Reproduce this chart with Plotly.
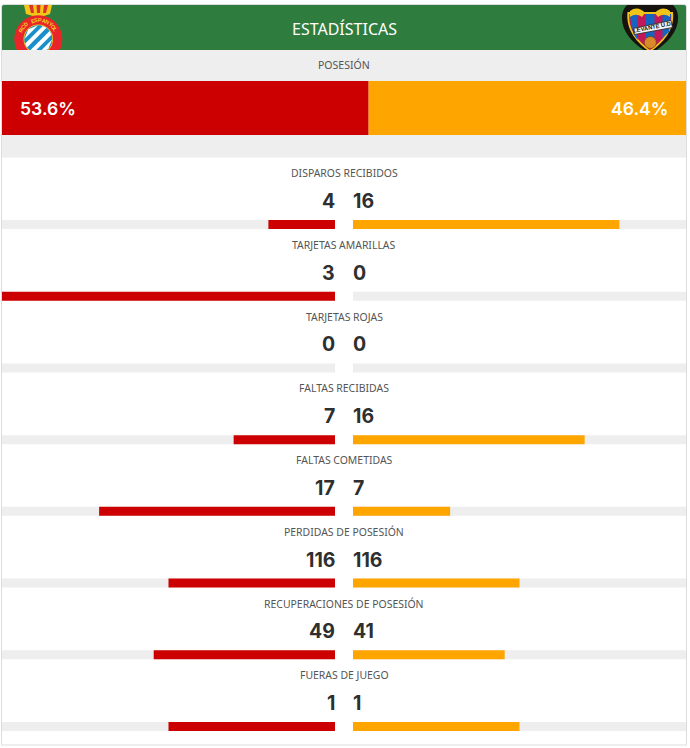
import math
import plotly.graph_objects as go

W, H = 690, 748
stat_labels = ["DISPAROS RECIBIDOS", "TARJETAS AMARILLAS", "TARJETAS ROJAS", "FALTAS RECIBIDAS",
               "FALTAS COMETIDAS", "PERDIDAS DE POSESIÓN", "RECUPERACIONES DE POSESIÓN", "FUERAS DE JUEGO"]
home_values = [4, 3, 0, 7, 17, 116, 49, 1]
away_values = [16, 0, 0, 16, 7, 116, 41, 1]
possession_home = [53.6]
possession_away = [46.4]
title_text = "ESTADÍSTICAS"
possession_label = "POSESIÓN"

RED, ORANGE, GREY, GREEN = "#cc0000", "#ffa500", "#eeeeee", "#2f7d3e"
INK = "#2f2f2f"
LABEL_FONT = "Noto Sans"
NUM_FONT = "Inter"

def px(x):
    return x / W
def py(y):
    return 1 - y / H

home_share = [h / (h + a) if h + a else 0 for h, a in zip(home_values, away_values)]
away_share = [a / (h + a) if h + a else 0 for h, a in zip(home_values, away_values)]
rows = list(range(len(stat_labels)))
track = [1] * len(rows)

fig = go.Figure()
barw = 0.1255
for xa, share, col in (("x", home_share, RED), ("x2", away_share, ORANGE)):
    fig.add_bar(y=rows, x=track, orientation="h", xaxis=xa, yaxis="y", marker=dict(color=GREY, line_width=0),
                width=barw, hoverinfo="skip", showlegend=False)
    fig.add_bar(y=rows, x=share, orientation="h", xaxis=xa, yaxis="y", marker=dict(color=col, line_width=0),
                width=barw, showlegend=False)
fig.add_bar(y=[0], x=possession_home, orientation="h", xaxis="x3", yaxis="y3", marker=dict(color=RED, line_width=0),
            width=1, showlegend=False)
fig.add_bar(y=[0], x=possession_away, base=possession_home, orientation="h", xaxis="x3", yaxis="y3",
            marker=dict(color=ORANGE, line_width=0), width=1, showlegend=False)

hidden = dict(visible=False, fixedrange=True)
pitch = 71.71
first = 224.5
top = first - 0.5 * pitch
bot_val = 7.2
bottom = first + bot_val * pitch
fig.update_layout(
    width=W, height=H, margin=dict(l=0, r=0, t=0, b=0), paper_bgcolor="white", plot_bgcolor="rgba(0,0,0,0)",
    barmode="overlay",
    xaxis=dict(domain=[px(2), px(335)], range=[1, 0], **hidden),
    xaxis2=dict(domain=[px(353), px(686)], range=[0, 1], **hidden),
    xaxis3=dict(domain=[px(2), px(686)], range=[0, 100], **hidden),
    yaxis=dict(domain=[py(bottom), py(top)], range=[bot_val, -0.5], **hidden),
    yaxis3=dict(domain=[py(135), py(81)], range=[-0.5, 0.5], **hidden),
)

# ---- decoration helpers: everything below is in page pixels
def P(path_pts):
    parts = []
    for i, (x, y) in enumerate(path_pts):
        parts.append(("M" if i == 0 else "L") + f"{px(x):.5f},{py(y):.5f}")
    return " ".join(parts) + " Z"

def curve(*nodes):
    out = []
    for n in nodes:
        cmd, pts = n[0], n[1:]
        out.append(cmd + " ".join(f"{px(x):.5f},{py(y):.5f}" for x, y in pts))
    return " ".join(out) + " Z"

def poly(pts, fill, line=None, lw=0):
    return dict(type="path", xref="paper", yref="paper", path=P(pts), fillcolor=fill,
                line=dict(color=line or fill, width=lw), layer="below")

def path(d, fill):
    return dict(type="path", xref="paper", yref="paper", path=d, fillcolor=fill, line_width=0, layer="below")

def circ(cx, cy, r, fill, line=None, lw=0):
    return dict(type="circle", xref="paper", yref="paper", x0=px(cx - r), x1=px(cx + r), y0=py(cy + r), y1=py(cy - r),
                fillcolor=fill, line=dict(color=line or fill, width=lw), layer="below")

def rect(x0, y0, x1, y1, fill):
    return dict(type="rect", xref="paper", yref="paper", x0=px(x0), x1=px(x1), y0=py(y1), y1=py(y0),
                fillcolor=fill, line_width=0, layer="below")

r = 4
header = curve(("M", (2, 50)), ("L", (2, 5 + r)), ("C", (2, 5), (2, 5), (2 + r, 5)), ("L", (686 - r, 5)),
               ("C", (686, 5), (686, 5), (686, 5 + r)), ("L", (686, 50)))
card = curve(("M", (1.5, 745)), ("L", (1.5, 4.5 + r)), ("C", (1.5, 4.5), (1.5, 4.5), (1.5 + r, 4.5)),
             ("L", (686.5 - r, 4.5)), ("C", (686.5, 4.5), (686.5, 4.5), (686.5, 4.5 + r)), ("L", (686.5, 745)))
shapes = [dict(type="path", xref="paper", yref="paper", path=card, fillcolor="white",
               line=dict(color="#dddddd", width=1), layer="below"),
          path(header, GREEN)]

# Espanyol crest
cx, cy = 38.3, 39.2
shapes += [
    poly([(24, 5), (52, 5), (50, 14), (44, 16), (33, 16), (26, 14)], "#f5c518"),
    poly([(29, 5), (33, 5), (34, 13), (31, 13)], "#d8342a"),
    poly([(36.5, 5), (40.5, 5), (40, 13), (37, 13)], "#d8342a"),
    poly([(44, 5), (48, 5), (46, 13), (43, 13)], "#d8342a"),
    circ(cx, cy, 24, "#e8262a"),
    circ(cx, cy, 14.8, "#f5c518"),
    circ(cx, cy, 14, "#1b8fcb"),
]
for d in (-12, -4.2, 4.2, 12):  # white diagonal stripes of the crest
    half = 2.0
    pts = []
    for off, sgn in ((d - half, 1), (d + half, -1)):
        ch = math.sqrt(max(14 ** 2 - off ** 2, 0))
        a = (cx + off * 0.707 - sgn * ch * 0.707, cy + off * 0.707 + sgn * ch * 0.707)
        b = (cx + off * 0.707 + sgn * ch * 0.707, cy + off * 0.707 - sgn * ch * 0.707)
        pts += [a, b]
    shapes.append(poly(pts, "white"))

# Levante crest
shapes += [
    path(curve(("M", (627, 5)), ("L", (673, 5)), ("C", (676, 8), (678, 12), (678, 18)),
               ("C", (678, 34), (664, 46), (650, 54)), ("C", (636, 46), (622, 34), (622, 18)),
               ("C", (622, 12), (624, 8), (627, 5))), "#16120f"),
    path(curve(("M", (627.5, 12)), ("L", (673, 12)), ("C", (675, 30), (663, 43), (650, 52)),
               ("C", (637, 43), (625.5, 30), (627.5, 12))), "#f0c419"),
    path(curve(("M", (629.5, 14)), ("L", (671, 14)), ("C", (673, 30), (661, 42), (650, 50)),
               ("C", (639, 42), (627.5, 30), (629.5, 14))), "#c2185b"),
]
for x0, x1 in ((629.5, 637.5), (645.5, 654.5), (662.5, 671)):
    shapes.append(poly([(x0, 14), (x1, 14), (x1, 40), (x0, 40)] if x0 > 640 and x0 < 650 else
                       ([(x0, 14), (x1, 14), (x1, 40), (x0 + 4, 34)] if x0 < 640 else
                        [(x0, 14), (x1, 14), (x1 - 2, 32), (x0, 38)]), "#1565c0"))
shapes += [
    path(curve(("M", (630, 11)), ("C", (635, 7), (641, 8), (645, 13)), ("L", (642, 17)), ("C", (638, 14), (634, 14), (630, 17))), "#f0c419"),
    path(curve(("M", (670, 11)), ("C", (665, 7), (659, 8), (655, 13)), ("L", (658, 17)), ("C", (662, 14), (666, 14), (670, 17))), "#f0c419"),
    poly([(633, 28.5), (671, 20.5), (672.5, 27.5), (634.5, 34.5)], "#f5f5f5", "#222222", 0.8),
    circ(650.3, 42.5, 6, "#d98a2b", "#6b3a10", 0.6),
]
# band below the header hides what overhangs it
shapes.append(rect(2, 50, 686, 157.5, GREY))
shapes.append(rect(0, 0, 690, 4, "white"))

ann = [
    dict(text=title_text, x=px(344), y=py(29), font=dict(family=LABEL_FONT, size=16, color="white")),
    dict(text=possession_label, x=px(344), y=py(65), font=dict(family=LABEL_FONT, size=10.5, color="#555555")),
    dict(text=f"{possession_home[0]}%", x=px(19), y=py(108), xanchor="left",
         font=dict(family=NUM_FONT, size=17.6, color="white", weight=600)),
    dict(text=f"{possession_away[0]}%", x=px(668.5), y=py(108), xanchor="right",
         font=dict(family=NUM_FONT, size=17.6, color="white", weight=600)),
]
for i, lab in enumerate(stat_labels):
    yc = first + i * pitch
    ann.append(dict(text=lab, x=px(344.3), y=py(yc - 51.2), font=dict(family=LABEL_FONT, size=10.45, color="#555555")))
    ann.append(dict(text=str(home_values[i]), x=px(335.5), y=py(yc - 23.5), xanchor="right",
                    font=dict(family=NUM_FONT, size=19.5, color=INK, weight=700)))
    ann.append(dict(text=str(away_values[i]), x=px(352), y=py(yc - 23.5), xanchor="left",
                    font=dict(family=NUM_FONT, size=19.5, color=INK, weight=700)))
# lettering on the crests
ring = "RCD ESPANYOL"
for k, ch in enumerate(ring):
    ang = -62 + k * 124 / (len(ring) - 1)
    ar = math.radians(ang)
    ann.append(dict(text=ch, x=px(cx + 19.3 * math.sin(ar)), y=py(cy - 19.3 * math.cos(ar)), textangle=ang,
                    font=dict(family="Liberation Sans", size=5.5, color="#f5d020", weight=700)))
ann.append(dict(text="LEVANTE U.D.", x=px(652.7), y=py(27.5), textangle=-11,
                font=dict(family="Liberation Sans", size=5.8, color="#111111", weight=700)))
for a in ann:
    a.update(xref="paper", yref="paper", showarrow=False, yanchor="middle", borderpad=0)
    a.setdefault("xanchor", "center")
fig.update_layout(shapes=shapes, annotations=ann)
fig.write_html("out.html", config={"displayModeBar": False},
               post_script="document.body.style.margin='0';document.body.style.overflow='hidden';")
